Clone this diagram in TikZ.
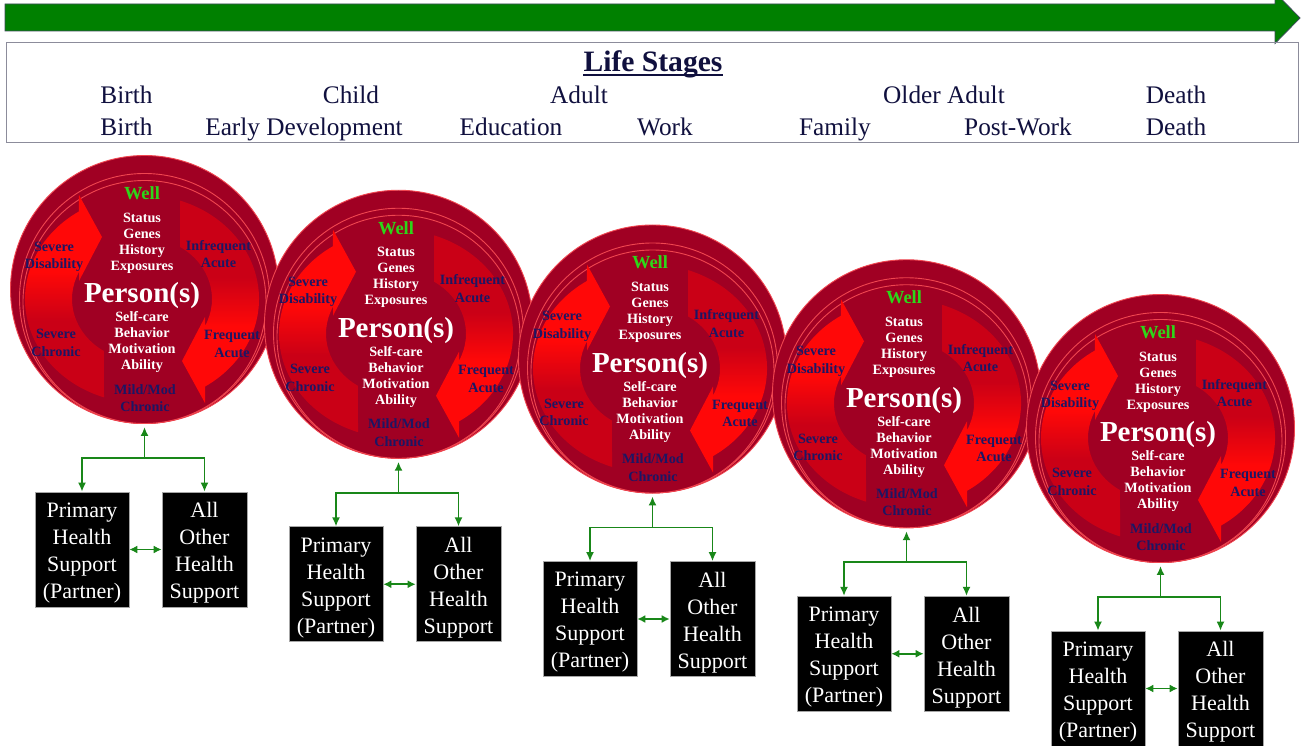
\documentclass[tikz,border=0pt]{standalone}
\usepackage{fontspec}
\setmainfont{Liberation Serif}
\usetikzlibrary{arrows.meta}
\definecolor{maroonC}{RGB}{160,0,35}
\definecolor{ringC}{RGB}{240,70,80}
\definecolor{arrBright}{RGB}{255,8,8}
\definecolor{arrDark}{RGB}{202,0,22}
\definecolor{navyC}{RGB}{28,22,100}
\definecolor{titleNavy}{RGB}{16,16,62}
\definecolor{wellGreen}{RGB}{45,215,25}
\definecolor{connGreen}{RGB}{25,135,25}
\definecolor{barGreen}{RGB}{0,128,0}
\definecolor{barEdge}{RGB}{60,75,90}
\definecolor{boxGray}{RGB}{140,140,155}
\pgfdeclareverticalshading{shadeL}{100bp}{color(0bp)=(arrDark); color(25bp)=(arrDark); color(44bp)=(arrDark); color(56bp)=(arrBright); color(75bp)=(arrBright); color(100bp)=(arrBright)}
\pgfdeclareverticalshading{shadeR}{100bp}{color(0bp)=(arrBright); color(25bp)=(arrBright); color(44bp)=(arrBright); color(56bp)=(arrDark); color(75bp)=(arrDark); color(100bp)=(arrDark)}
\begin{document}
\begin{tikzpicture}[x=1pt,y=-1pt,
  stagetext/.style={anchor=base, inner sep=0, text=titleNavy, font=\fontsize{25.3}{30}\selectfont},
  stagetitle/.style={anchor=base, inner sep=0, text=titleNavy, font=\bfseries\fontsize{29.6}{34}\selectfont},
  ring/.style={fill=maroonC, draw=ringC, line width=0.9pt},
  frontcirc/.style={circle, minimum size=243pt, inner sep=0, fill=maroonC, draw=ringC, line width=0.9pt},
  ctext/.style={text=white, font=\bfseries\fontsize{14.2}{16}\selectfont, align=center, inner sep=0},
  clabel/.style={text=navyC, font=\bfseries\fontsize{14.2}{17.4}\selectfont, align=center, inner sep=0},
  wellt/.style={text=wellGreen, font=\bfseries\fontsize{18.5}{20}\selectfont, inner sep=0},
  persont/.style={text=white, font=\bfseries\fontsize{29}{32}\selectfont, inner sep=0},
  hbox/.style={fill=black, draw=gray!70, line width=0.6pt, minimum height=115pt, inner sep=0},
  boxtext/.style={text=white, align=center, font=\fontsize{22}{27}\selectfont, inner sep=0},
  conn/.style={draw=connGreen, line width=1.8pt},
  tip/.style={-{Latex[length=9pt,width=8pt]}},
  dtip/.style={{Latex[length=8pt,width=8pt]}-{Latex[length=8pt,width=8pt]}}
]
\useasboundingbox (0,0) rectangle (1301,746);
\clip (0,0) rectangle (1301,746);
\fill[white] (0,0) rectangle (1301,746);

% timeline arrow
\draw[fill=barGreen, draw=barEdge, line width=0.8pt] (5,4) -- (1275,4) -- (1275,-7.5) -- (1300,18) -- (1275,43.5) -- (1275,31) -- (5,31) -- cycle;

% life stages box
\draw[draw=boxGray, line width=1pt] (6,42.5) rectangle (1298,142.5);
\node[stagetitle] (title) at (653,71.3) {Life Stages};
\draw[line width=2pt, titleNavy] ([yshift=-4pt]title.base west) -- ([yshift=-4pt]title.base east);

\node[stagetext] (r1a) at (126.5,104) {Birth};
\node[stagetext] (r1b) at (351,104) {Child};
\node[stagetext] (r1c) at (579,104) {Adult};
\node[stagetext] (r1d) at (944,104) {Older Adult};
\node[stagetext] (r1e) at (1176,104) {Death};

\node[stagetext] (r2a) at (126.5,135.5) {Birth};
\node[stagetext] (r2b) at (304,135.5) {Early Development};
\node[stagetext] (r2c) at (511,135.5) {Education};
\node[stagetext] (r2d) at (665,135.5) {Work};
\node[stagetext] (r2e) at (835,135.5) {Family};
\node[stagetext] (r2f) at (1018,135.5) {Post-Work};
\node[stagetext] (r2g) at (1176,135.5) {Death};

% stages
\foreach \i in {0,...,4} {
\begin{scope}[shift={(142+254*\i,299+34.75*\i)}]
  \filldraw[ring] (2.5,-9.5) circle[radius=134];
  \filldraw[ring] (2.5,-0.5) circle[radius=125];
  \node[frontcirc] (c\i) at (2.5,3) {};
  % left cycle arrow (tail bottom, head top pointing right)
  \shade[shading=shadeL] (-38,98.4) arc[start angle=108.95, end angle=237.4, x radius=117, y radius=104]
     -- (-63,-104) -- (-40,-62) -- (-63,-18) -- (-63,-27)
     arc[start angle=205.84, end angle=122.9, x radius=70, y radius=62] -- cycle;
  % right cycle arrow (tail top, head bottom pointing left)
  \shade[shading=shadeR] (38,-98.4) arc[start angle=-71.05, end angle=57.4, x radius=117, y radius=104]
     -- (63,104) -- (40,62) -- (63,18) -- (63,27)
     arc[start angle=25.84, end angle=-57.1, x radius=70, y radius=62] -- cycle;
  % texts
  \node[wellt] (w\i) at (0,-106) {Well};
  \node[ctext] (st\i) at (0,-56) {Status\\Genes\\History\\Exposures};
  \node[persont] (pe\i) at (0,-3) {Person(s)};
  \node[ctext] (sc\i) at (0,43.5) {Self-care\\Behavior\\Motivation\\Ability};
  \node[clabel] (mm\i) at (3,99) {Mild/Mod\\Chronic};
  \node[clabel] (sd\i) at (-88,-42) {Severe\\Disability};
  \node[clabel] (ia\i) at (76.5,-45) {Infrequent\\Acute};
  \node[clabel] (sv\i) at (-86,44) {Severe\\Chronic};
  \node[clabel] (fa\i) at (90,45) {Frequent\\Acute};
  % support boxes
  \coordinate (j\i) at (2.5,159);
  \node[hbox, minimum width=94pt] (p\i) at (-60,250.5) {};
  \node[boxtext] (pt\i) at (-60,254) {Primary\\Health\\Support\\(Partner)};
  \node[hbox, minimum width=85pt] (o\i) at (62.5,250.5) {};
  \node[boxtext] (ot\i) at (62.5,254) {All\\Other\\Health\\Support};
\end{scope}
}

% connectors
\foreach \i in {0,...,4} {
  \draw[conn, tip, shorten >=3pt] (j\i) -- (c\i.south);
  \draw[conn, tip] (j\i) -| (p\i.north);
  \draw[conn, tip] (j\i) -| (o\i.north);
  \draw[conn, dtip] (p\i.east) -- (o\i.west);
}
\end{tikzpicture}
\end{document}
